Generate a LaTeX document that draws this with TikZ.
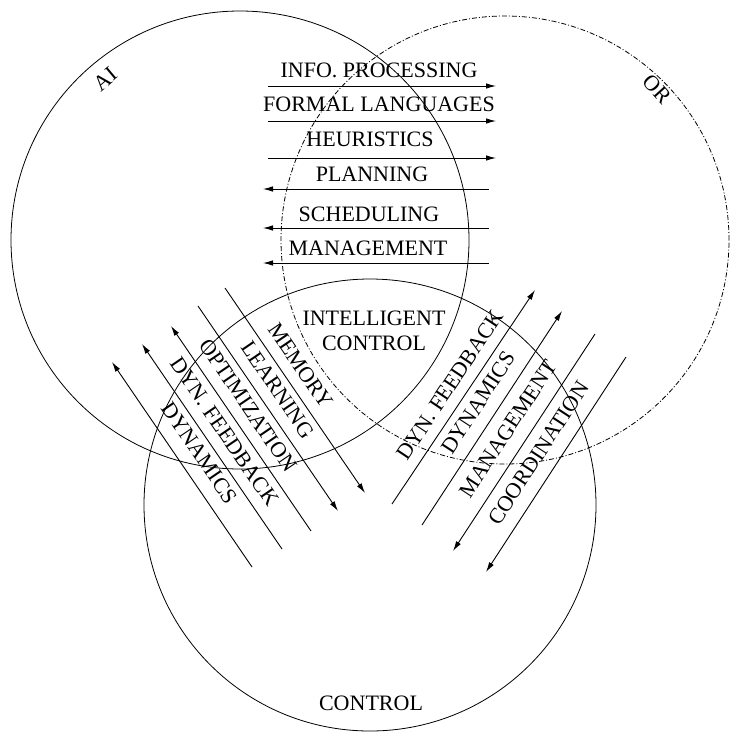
\documentclass[tikz,border=0pt]{standalone}
\usepackage{fontspec}
\setmainfont{Liberation Serif}
\usetikzlibrary{arrows.meta}
\begin{document}
\begin{tikzpicture}[x=1pt,y=-1pt,
  lbl/.style={font=\fontsize{22}{25}\selectfont, inner sep=0pt},
  ring/.style={line width=0.8pt},
  ordash/.style={ring, dash pattern=on 5pt off 2pt on 1pt off 2pt},
  ln/.style={line width=0.9pt},
  tipE/.style={ln, -{Latex[length=10pt,width=5.5pt]}},
  tipS/.style={ln, {Latex[length=10pt,width=5.5pt]}-},
  dlbl/.style={lbl, sloped, above=#1},
  dlbl/.default=11pt]
\useasboundingbox (0,0) rectangle (733,732);

% circles
\draw[ring] (240,240) circle[radius=229pt];
\draw[ordash] (505,240) circle[radius=224pt];
\draw[ring] (370,505) circle[radius=226pt];

% circle labels
\node[lbl, rotate=40] (ai) at (105,79) {AI};
\node[lbl, rotate=-48] (or) at (657,89) {OR};
\node[lbl] (ctl) at (371,703) {CONTROL};
\node[lbl, align=center] (ic) at (374,331) {INTELLIGENT\\CONTROL};

% horizontal arrows (AI <-> OR)
\coordinate (h1a) at (268,86);  \coordinate (h1b) at (496,86);
\coordinate (h2a) at (268,121); \coordinate (h2b) at (496,121);
\coordinate (h3a) at (268,158); \coordinate (h3b) at (496,158);
\coordinate (h4a) at (263,189); \coordinate (h4b) at (489,189);
\coordinate (h5a) at (263,228); \coordinate (h5b) at (489,228);
\coordinate (h6a) at (263,263); \coordinate (h6b) at (489,263);
\draw[tipE] (h1a) -- (h1b);
\draw[tipE] (h2a) -- (h2b);
\draw[tipE] (h3a) -- (h3b);
\draw[tipS] (h4a) -- (h4b);
\draw[tipS] (h5a) -- (h5b);
\draw[tipS] (h6a) -- (h6b);
\node[lbl] (tinfo) at (379,70) {INFO. PROCESSING};
\node[lbl] (tform) at (379,104) {FORMAL LANGUAGES};
\node[lbl] (theur) at (370,139) {HEURISTICS};
\node[lbl] (tplan) at (372,174) {PLANNING};
\node[lbl] (tsched) at (369,214) {SCHEDULING};
\node[lbl] (tmgmt) at (368,248) {MANAGEMENT};

% left diagonal arrows (AI <-> CONTROL)
\coordinate (l1a) at (225,288); \coordinate (l1b) at (365,493);
\coordinate (l2a) at (198,306); \coordinate (l2b) at (338,511);
\coordinate (l3a) at (171,326); \coordinate (l3b) at (311,531);
\coordinate (l4a) at (142,344); \coordinate (l4b) at (282,549);
\coordinate (l5a) at (112,362); \coordinate (l5b) at (252,567);
\draw[tipE] (l1a) -- node[dlbl, pos=0.43] (tmem) {MEMORY} (l1b);
\draw[tipE] (l2a) -- node[dlbl, pos=0.46] (tlearn) {LEARNING} (l2b);
\draw[tipS] (l3a) -- node[dlbl, pos=0.44] (topt) {OPTIMIZATION} (l3b);
\draw[tipS] (l4a) -- node[dlbl, pos=0.48] (tdfl) {DYN. FEEDBACK} (l4b);
\draw[tipS] (l5a) -- node[dlbl=13pt, pos=0.50] (tdyl) {DYNAMICS} (l5b);

% right diagonal arrows (OR <-> CONTROL)
\coordinate (r1a) at (392,504); \coordinate (r1b) at (535,290);
\coordinate (r2a) at (422,525); \coordinate (r2b) at (562,311);
\coordinate (r3a) at (453,551); \coordinate (r3b) at (595,334);
\coordinate (r4a) at (486,572); \coordinate (r4b) at (626,357);
\draw[tipE] (r1a) -- node[dlbl=10pt, pos=0.51] (tdfr) {DYN. FEEDBACK} (r1b);
\draw[tipE] (r2a) -- node[dlbl=12pt, pos=0.52] (tdyr) {DYNAMICS} (r2b);
\draw[tipS] (r3a) -- node[dlbl=13pt, pos=0.51] (tmgr) {MANAGEMENT} (r3b);
\draw[tipS] (r4a) -- node[dlbl=13pt, pos=0.50] (tcoord) {COORDINATION} (r4b);
\end{tikzpicture}
\end{document}
